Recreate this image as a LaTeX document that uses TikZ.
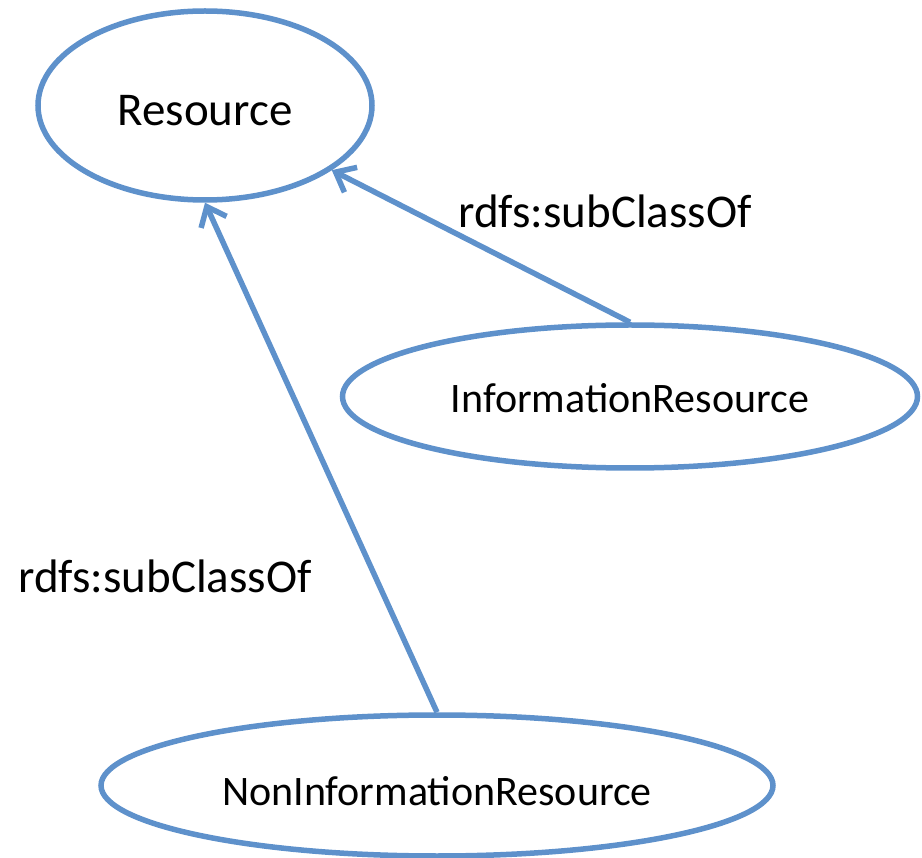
\documentclass[tikz,border=0pt]{standalone}
\usepackage{fontspec}
\setmainfont{Carlito}
\usetikzlibrary{shapes.geometric,arrows.meta}
\definecolor{lineblue}{RGB}{94,145,203}
\tikzset{
  cls/.style={ellipse, draw=lineblue, line width=5.5pt, inner sep=0pt, text=black},
  big/.style={font=\fontsize{47}{56}\selectfont},
  small/.style={font=\fontsize{42}{50}\selectfont},
  sub/.style={draw=lineblue, line width=5.5pt, -{Straight Barb[length=17pt,width=28pt]}},
  lbl/.style={big, anchor=base, inner sep=0pt}
}
\begin{document}
\begin{tikzpicture}[x=1pt,y=-1pt]
\useasboundingbox (0,0) rectangle (922,858);
\node[cls, big, minimum width=334pt, minimum height=189pt, text height=41pt, text depth=0pt] (R) at (205,105.5) {Resource};
\node[cls, small, minimum width=575pt, minimum height=143pt, text height=33pt, text depth=0pt] (IR) at (630,396.5) {InformationResource};
\node[cls, small, minimum width=672pt, minimum height=141pt, text height=39pt, text depth=0pt] (NI) at (437,785.5) {NonInformationResource};
\draw[sub] (IR.north) -- (R);
\draw[sub] (NI.north) -- (R.south);
\node[lbl] (L1) at (605,228) {rdfs:subClassOf};
\node[lbl] (L2) at (165,593) {rdfs:subClassOf};
\end{tikzpicture}
\end{document}
